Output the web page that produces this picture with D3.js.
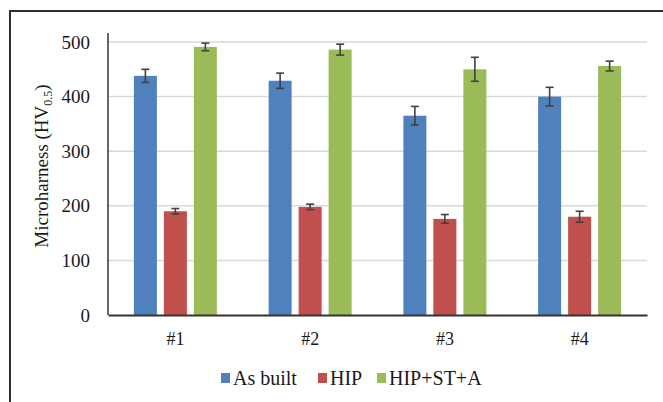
<!DOCTYPE html>
<html lang="en">
<head>
<meta charset="UTF-8">
<title>Microhardness</title>
<script src="https://d3js.org/d3.v7.min.js"></script>
<style type="text/css">
    body { margin: 0; background: #fff; }
    svg text { font-family: "Liberation Serif", "Times New Roman", serif !important; fill: #1a1a1a; }
</style>
</head>
<body>
<div id="chartArea"></div>
<script type="text/javascript">
    var categories = ['#1', '#2', '#3', '#4'];
    var seriesNames = ['As built', 'HIP', 'HIP+ST+A'];
    var seriesColors = ['#4F81BD', '#C0504D', '#9BBB59'];
    var asBuilt = [438, 429, 365, 400];
    var hip = [190, 198, 176, 180];
    var hipStA = [491, 486, 450, 456];
    var asBuiltErr = [12, 14, 17, 17];
    var hipErr = [5, 5, 8, 10];
    var hipStAErr = [7, 10, 22, 9];
    var yTicks = [0, 100, 200, 300, 400, 500];

    var values = [asBuilt, hip, hipStA];
    var errors = [asBuiltErr, hipErr, hipStAErr];

    var w = 663, h = 402;
    var mLeft = 108, mRight = 647, mTop = 42, mBottom = 315;

    var svg = d3.select('#chartArea').append('svg')
        .attr('width', w)
        .attr('height', h);

    // outer frame (right and bottom run off the picture)
    svg.append('rect')
        .attr('x', 10).attr('y', 11)
        .attr('width', 700).attr('height', 450)
        .attr('fill', 'none')
        .attr('stroke', '#1a1a1a')
        .attr('stroke-width', 1.8);

    var y = d3.scaleLinear().domain([0, 500]).range([mBottom, mTop]);
    var x0 = d3.scaleBand().domain(categories).range([mLeft, mRight]).padding(0);
    var groupW = 83;
    var x1 = d3.scaleBand().domain(seriesNames)
        .range([(x0.bandwidth() - groupW) / 2, (x0.bandwidth() + groupW) / 2])
        .paddingInner(0.233).paddingOuter(0);

    // gridlines
    svg.append('g').selectAll('line')
        .data(yTicks.filter(function (d) { return d > 0; }))
        .enter().append('line')
        .attr('x1', mLeft).attr('x2', mRight)
        .attr('y1', function (d) { return y(d); })
        .attr('y2', function (d) { return y(d); })
        .attr('stroke', '#d9d9d9')
        .attr('stroke-width', 1.5);

    // y axis
    var yAxis = svg.append('g')
        .attr('transform', 'translate(' + mLeft + ',0)')
        .call(d3.axisLeft(y).tickValues(yTicks).tickSize(0).tickPadding(18));
    yAxis.select('.domain').remove();
    yAxis.selectAll('text').attr('font-size', 19);
    svg.append('line')
        .attr('x1', mLeft).attr('x2', mLeft)
        .attr('y1', 33).attr('y2', mBottom)
        .attr('stroke', '#333').attr('stroke-width', 1.5);

    // bars
    var groups = svg.append('g').selectAll('g')
        .data(categories)
        .enter().append('g')
        .attr('transform', function (d) { return 'translate(' + x0(d) + ',0)'; });

    groups.selectAll('rect')
        .data(function (d, i) {
            return seriesNames.map(function (s, j) {
                return { s: s, j: j, v: values[j][i], e: errors[j][i] };
            });
        })
        .enter().append('rect')
        .attr('x', function (d) { return x1(d.s); })
        .attr('y', function (d) { return y(d.v); })
        .attr('width', x1.bandwidth())
        .attr('height', function (d) { return mBottom - y(d.v); })
        .attr('fill', function (d) { return seriesColors[d.j]; });

    // error bars
    var eb = groups.selectAll('g.err')
        .data(function (d, i) {
            return seriesNames.map(function (s, j) {
                return { s: s, v: values[j][i], e: errors[j][i] };
            });
        })
        .enter().append('g').attr('class', 'err')
        .attr('stroke', '#404040').attr('stroke-width', 1.6);
    eb.append('line')
        .attr('x1', function (d) { return x1(d.s) + x1.bandwidth() / 2; })
        .attr('x2', function (d) { return x1(d.s) + x1.bandwidth() / 2; })
        .attr('y1', function (d) { return y(d.v + d.e); })
        .attr('y2', function (d) { return y(d.v - d.e); });
    eb.selectAll('line.cap')
        .data(function (d) { return [[d, d.v + d.e], [d, d.v - d.e]]; })
        .enter().append('line').attr('class', 'cap')
        .attr('x1', function (d) { return x1(d[0].s) + x1.bandwidth() / 2 - 4; })
        .attr('x2', function (d) { return x1(d[0].s) + x1.bandwidth() / 2 + 4; })
        .attr('y1', function (d) { return y(d[1]); })
        .attr('y2', function (d) { return y(d[1]); });

    // x axis
    var xAxis = svg.append('g')
        .attr('transform', 'translate(0,' + mBottom + ')')
        .call(d3.axisBottom(x0).tickSize(0).tickPadding(17));
    xAxis.select('.domain').attr('stroke', '#333').attr('stroke-width', 2);
    xAxis.selectAll('text').attr('font-size', 18);

    // y label
    var yl = svg.append('text')
        .attr('transform', 'translate(48,166) rotate(-90)')
        .attr('text-anchor', 'middle')
        .attr('font-size', 19);
    yl.append('tspan').text('Microharness (HV');
    yl.append('tspan').attr('font-size', 12).attr('dy', 4).text('0.5');
    yl.append('tspan').attr('dy', -4).text(')');

    // legend
    var legendX = [221, 318, 377];
    var legend = svg.append('g').selectAll('g')
        .data(seriesNames)
        .enter().append('g')
        .attr('transform', function (d, i) { return 'translate(' + legendX[i] + ',385)'; });
    legend.append('rect')
        .attr('x', 0).attr('y', -12)
        .attr('width', 9).attr('height', 10)
        .attr('fill', function (d, i) { return seriesColors[i]; });
    legend.append('text')
        .attr('x', 12)
        .attr('font-size', 20)
        .text(function (d) { return d; });
</script>
</body>
</html>
